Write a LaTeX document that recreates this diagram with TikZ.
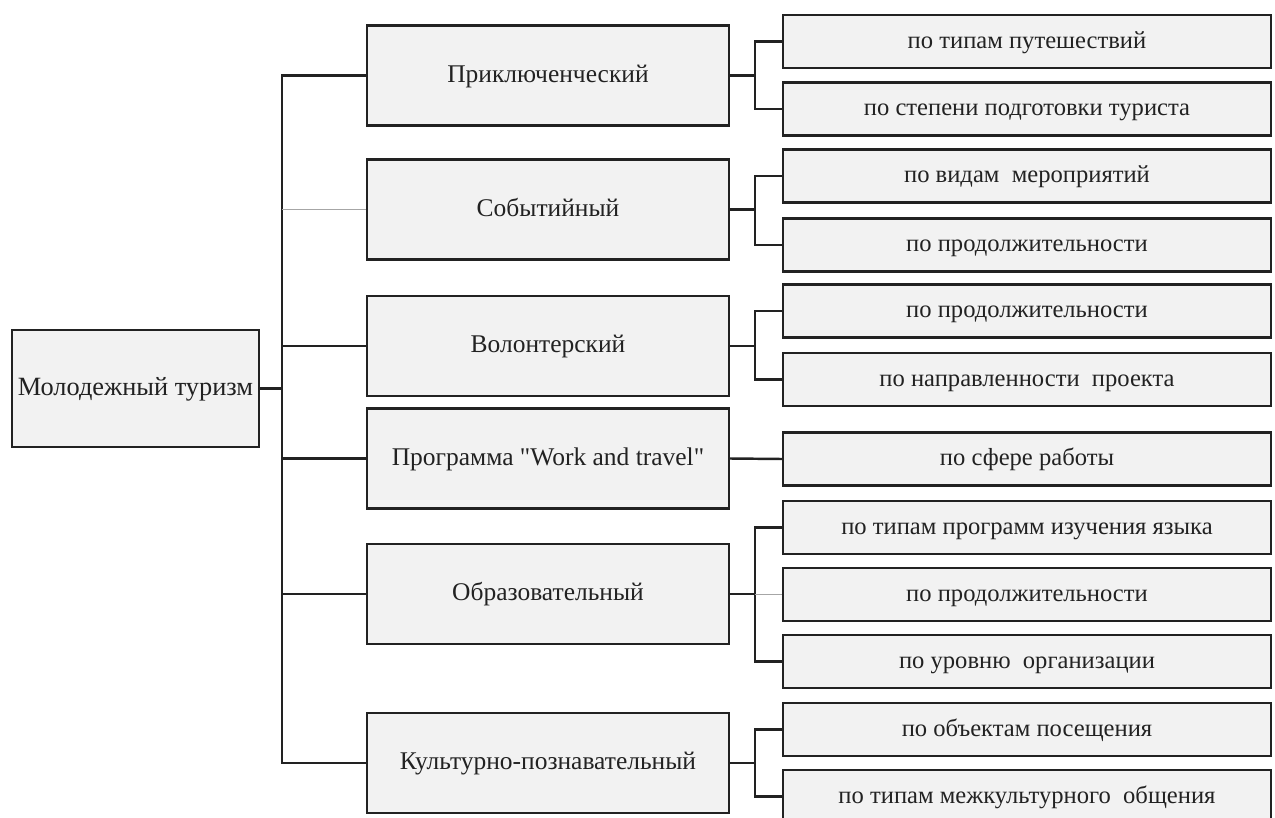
\documentclass[tikz,border=0pt]{standalone}
\usepackage{fontspec}
\setmainfont{Liberation Serif}
\usepackage{xcolor}
\usetikzlibrary{positioning,calc}

\definecolor{boxfill}{HTML}{F2F2F2}
\definecolor{boxline}{HTML}{222222}

\begin{document}
\begin{tikzpicture}[
    x=0.02cm, y=-0.02cm,
    every node/.style={font=\fontsize{15}{18}\selectfont, text=boxline, text height=1.0em, text depth=0.24em},
    rootbox/.style={rectangle, draw=boxline, fill=boxfill, line width=1.4pt, minimum width=4.94cm, minimum height=2.34cm, inner sep=0pt, align=center},
    kind/.style={rectangle, draw=boxline, fill=boxfill, line width=1.4pt, minimum width=7.24cm, minimum height=2cm, inner sep=0pt, align=center, font=\fontsize{14.5}{17}\selectfont},
    crit/.style={rectangle, draw=boxline, fill=boxfill, line width=1.4pt, minimum width=9.76cm, minimum height=1.06cm, inner sep=0pt, align=center, font=\fontsize{14}{17}\selectfont},
    link/.style={draw=boxline, line width=1.4pt},
    faint/.style={draw=gray!70, line width=0.7pt}
]
\useasboundingbox (0,0) rectangle (1275,818);

\coordinate (trunk) at (282,0);
\coordinate (fork) at (755,0);

% root
\node[rootbox] (root) at (135.5,388.5) {Молодежный туризм};

% kinds of tourism
\node[kind] (advent) at (548,75.5) {Приключенческий};
\node[kind] (event) at (548,209.5) {Событийный};
\node[kind] (volunt) at (548,346) {Волонтерский};
\node[kind] (wat) at (548,458.5) {Программа \textquotedbl Work and travel\textquotedbl};
\node[kind] (educ) at (548,594) {Образовательный};
\node[kind] (cult) at (548,763) {Культурно-познавательный};

% criteria
\node[crit] (advA) at (1027,41.5) {по типам путешествий};
\node[crit] (advB) at (1027,109) {по степени подготовки туриста};
\node[crit] (evA) at (1027,176) {по видам\ \ мероприятий};
\node[crit] (evB) at (1027,245) {по продолжительности};
\node[crit] (volA) at (1027,311) {по продолжительности};
\node[crit] (volB) at (1027,379.5) {по направленности\ \ проекта};
\node[crit] (watA) at (1027,459) {по сфере работы};
\node[crit] (eduA) at (1027,527.5) {по типам программ изучения языка};
\node[crit] (eduB) at (1027,594.5) {по продолжительности};
\node[crit] (eduC) at (1027,661.5) {по уровню\ \ организации};
\node[crit] (culA) at (1027,729.5) {по объектам посещения};
\node[crit] (culB) at (1027,796.5) {по типам межкультурного\ \ общения};

% root to kinds
\draw[link] (root.east) -- (root.east -| trunk);
\draw[link] (advent.west) -- (advent.west -| trunk) |- (cult.west);
\draw[faint] (event.west) -- (event.west -| trunk);
\draw[link] (volunt.west) -- (volunt.west -| trunk);
\draw[link] (wat.west) -- (wat.west -| trunk);
\draw[link] (educ.west) -- (educ.west -| trunk);

% kinds to criteria
\draw[link] (advent.east) -- (advent.east -| fork);
\draw[link] (advA.west) -- (advA.west -| fork) |- (advB.west);
\draw[link] (event.east) -- (event.east -| fork);
\draw[link] (evA.west) -- (evA.west -| fork) |- (evB.west);
\draw[link] (volunt.east) -- (volunt.east -| fork);
\draw[link] (volA.west) -- (volA.west -| fork) |- (volB.west);
\draw[link] (wat.east) -- (watA.west);
\draw[link] (educ.east) -- (educ.east -| fork);
\draw[link] (eduA.west) -- (eduA.west -| fork) |- (eduC.west);
\draw[faint] (eduB.west) -- (eduB.west -| fork);
\draw[link] (cult.east) -- (cult.east -| fork);
\draw[link] (culA.west) -- (culA.west -| fork) |- (culB.west);

\end{tikzpicture}
\end{document}
